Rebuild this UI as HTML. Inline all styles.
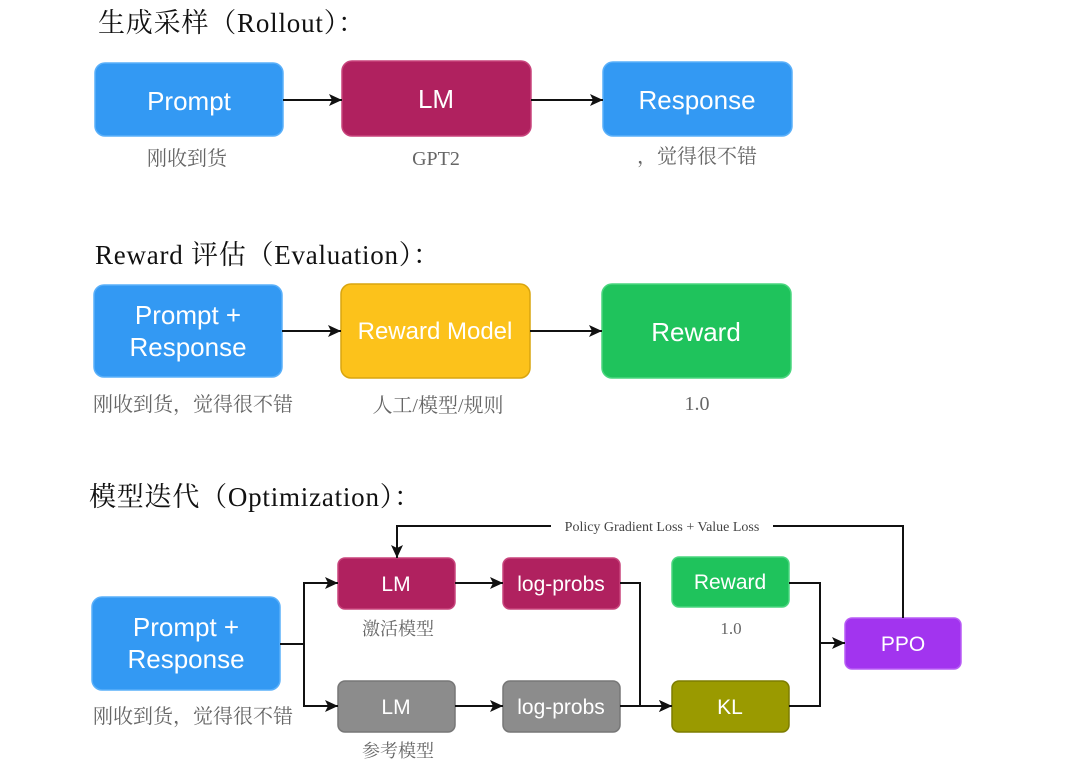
<!DOCTYPE html>
<html><head><meta charset="utf-8"><style>
html,body{margin:0;padding:0;background:#fff;}
svg{display:block;}
.t{font-family:"Liberation Serif","Noto Serif CJK SC",serif;font-size:27px;fill:#111;}
.b{font-family:"Liberation Sans",sans-serif;fill:#fff;text-anchor:middle;}
.l{font-family:"Liberation Serif","Noto Serif CJK SC",serif;font-size:20px;fill:#666;text-anchor:middle;}
</style></head><body>
<svg width="1080" height="774" viewBox="0 0 1080 774" xmlns="http://www.w3.org/2000/svg">
<defs><marker id="a" markerWidth="14" markerHeight="14" refX="13" refY="7" orient="auto" markerUnits="userSpaceOnUse"><path d="M0,1 L13,7 L0,13 L3,7 z" fill="#111"/></marker></defs>
<text class="t" x="98" y="32" textLength="267" lengthAdjust="spacing">生成采样（Rollout）：</text>
<text class="t" x="95" y="264" textLength="345" lengthAdjust="spacing">Reward 评估（Evaluation）：</text>
<text class="t" x="89" y="506" textLength="332" lengthAdjust="spacing">模型迭代（Optimization）：</text>

<g stroke-width="1.5">
<rect x="95" y="63" width="188" height="73" rx="10" fill="#3399f3" stroke="#5ab0fa"/>
<rect x="342" y="61" width="189" height="75" rx="10" fill="#b0215f" stroke="#c8447c"/>
<rect x="603" y="62" width="189" height="74" rx="10" fill="#3399f3" stroke="#5ab0fa"/>
<rect x="94" y="285" width="188" height="92" rx="10" fill="#3399f3" stroke="#5ab0fa"/>
<rect x="341" y="284" width="189" height="94" rx="10" fill="#fcc21b" stroke="#d9a50f"/>
<rect x="602" y="284" width="189" height="94" rx="10" fill="#1fc35c" stroke="#4ad67f"/>
<rect x="92" y="597" width="188" height="93" rx="10" fill="#3399f3" stroke="#5ab0fa"/>
<rect x="338" y="558" width="117" height="51" rx="7" fill="#b0215f" stroke="#c8447c"/>
<rect x="503" y="558" width="117" height="51" rx="7" fill="#b0215f" stroke="#c8447c"/>
<rect x="672" y="557" width="117" height="50" rx="7" fill="#1fc35c" stroke="#4ad67f"/>
<rect x="845" y="618" width="116" height="51" rx="7" fill="#a234ef" stroke="#b85cf5"/>
<rect x="338" y="681" width="117" height="51" rx="7" fill="#8c8c8c" stroke="#777"/>
<rect x="503" y="681" width="117" height="51" rx="7" fill="#8c8c8c" stroke="#777"/>
<rect x="672" y="681" width="117" height="51" rx="7" fill="#9a9a00" stroke="#7d7d00"/>
</g>

<g class="b" font-size="26">
<text x="189" y="110">Prompt</text>
<text x="436" y="108">LM</text>
<text x="697" y="109">Response</text>
<text x="188" y="324">Prompt +</text>
<text x="188" y="356">Response</text>
<text x="435" y="339" font-size="24">Reward Model</text>
<text x="696" y="341">Reward</text>
<text x="186" y="636">Prompt +</text>
<text x="186" y="668">Response</text>
</g>
<g class="b" font-size="21">
<text x="396" y="591">LM</text>
<text x="561" y="591">log-probs</text>
<text x="730" y="589">Reward</text>
<text x="903" y="651">PPO</text>
<text x="396" y="714">LM</text>
<text x="561" y="714">log-probs</text>
<text x="730" y="714">KL</text>
</g>

<g class="l">
<text x="187" y="165">刚收到货</text>
<text x="436" y="165">GPT2</text>
<text x="697" y="163">，觉得很不错</text>
<text x="193" y="411">刚收到货，觉得很不错</text>
<text x="438" y="412">人工/模型/规则</text>
<text x="697" y="410">1.0</text>
<text x="398" y="635" font-size="18">激活模型</text>
<text x="731" y="634" font-size="17">1.0</text>
<text x="193" y="723">刚收到货，觉得很不错</text>
<text x="398" y="757" font-size="18">参考模型</text>
</g>

<g stroke="#111" stroke-width="2" fill="none">
<line x1="283" y1="100" x2="342" y2="100" marker-end="url(#a)"/>
<line x1="531" y1="100" x2="603" y2="100" marker-end="url(#a)"/>
<line x1="282" y1="331" x2="341" y2="331" marker-end="url(#a)"/>
<line x1="530" y1="331" x2="602" y2="331" marker-end="url(#a)"/>
<polyline points="280,644 304,644"/>
<polyline points="338,583 304,583 304,706 338,706" marker-end="url(#a)"/>
<line x1="304" y1="583" x2="338" y2="583" marker-end="url(#a)"/>
<line x1="455" y1="583" x2="503" y2="583" marker-end="url(#a)"/>
<line x1="455" y1="706" x2="503" y2="706" marker-end="url(#a)"/>
<polyline points="620,583 640,583 640,706 672,706" marker-end="url(#a)"/>
<line x1="620" y1="706" x2="672" y2="706" marker-end="url(#a)"/>
<polyline points="789,583 820,583 820,706 789,706"/>
<line x1="820" y1="643" x2="845" y2="643" marker-end="url(#a)"/>
<polyline points="903,618 903,526 397,526 397,558" marker-end="url(#a)"/>
</g>
<rect x="551" y="518" width="222" height="16" fill="#fff"/>
<text x="662" y="531" font-family="Liberation Serif,serif" font-size="14" fill="#444" text-anchor="middle">Policy Gradient Loss + Value Loss</text>
</svg>
</body></html>
